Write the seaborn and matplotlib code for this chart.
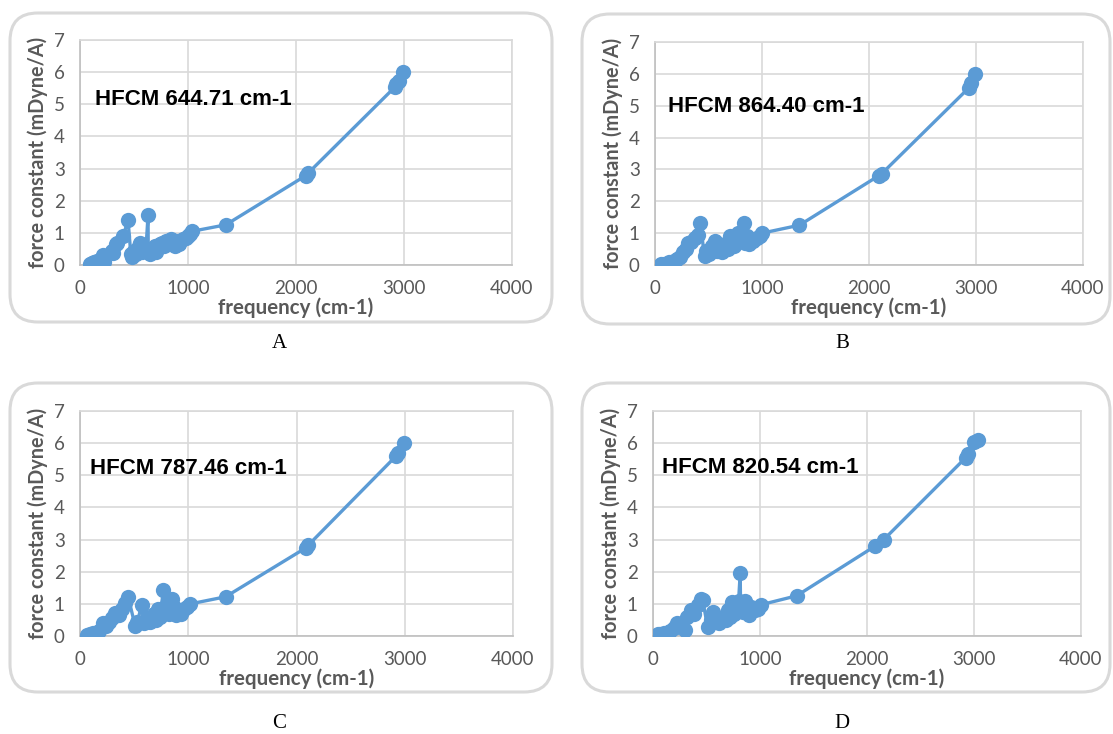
import matplotlib
matplotlib.use("Agg")
import matplotlib.pyplot as plt
import seaborn as sns
from matplotlib.patches import FancyBboxPatch

# ---------------- data ----------------
freq_A = [95, 110, 125, 140, 160, 175, 190, 205, 215, 225, 300, 310, 330, 345, 400, 445,
          470, 480, 500, 520, 545, 560, 575, 590, 610, 630, 632, 650, 670, 690, 700, 720,
          740, 760, 780, 800, 820, 840, 860, 880, 900, 920, 950, 980, 1000, 1020, 1040,
          1350, 2090, 2110, 2920, 2930, 2950, 2990]
fc_A = [0.03, 0.05, 0.08, 0.06, 0.12, 0.10, 0.20, 0.15, 0.30, 0.08, 0.45, 0.38, 0.65, 0.70, 0.90, 1.40,
        0.35, 0.25, 0.45, 0.35, 0.60, 0.70, 0.40, 0.50, 0.45, 1.55, 0.40, 0.35, 0.50, 0.60, 0.40, 0.55,
        0.65, 0.70, 0.60, 0.75, 0.65, 0.80, 0.70, 0.60, 0.75, 0.65, 0.80, 0.85, 0.90, 0.95, 1.05,
        1.25, 2.78, 2.85, 5.55, 5.62, 5.72, 6.00]

freq_B = [60, 80, 100, 130, 150, 180, 210, 230, 260, 290, 310, 340, 370, 400, 423,
          463, 480, 500, 530, 560, 580, 600, 630, 650, 680, 700, 720, 740, 760, 780, 800,
          833, 840, 860, 880, 900, 920, 950, 980, 1000,
          1350, 2090, 2120, 2930, 2950, 2990]
fc_B = [0.02, 0.04, 0.03, 0.08, 0.06, 0.12, 0.20, 0.25, 0.40, 0.50, 0.68, 0.72, 0.85, 0.95, 1.31,
        0.27, 0.45, 0.35, 0.60, 0.75, 0.45, 0.55, 0.40, 0.65, 0.50, 0.90, 0.70, 0.60, 0.85, 1.00, 0.80,
        1.33, 0.70, 0.90, 0.65, 0.80, 0.75, 0.85, 0.90, 1.00,
        1.25, 2.80, 2.87, 5.55, 5.70, 6.00]

freq_C = [65, 90, 120, 150, 180, 213, 240, 270, 300, 324, 360, 390, 417, 445,
          510, 530, 571, 590, 620, 650, 680, 700, 720, 740, 770, 775, 800, 820, 850, 870,
          890, 910, 930, 960, 990, 1020,
          1345, 2090, 2110, 2920, 2940, 2990]
fc_C = [0.03, 0.05, 0.08, 0.10, 0.15, 0.40, 0.30, 0.45, 0.55, 0.72, 0.65, 0.85, 1.03, 1.22,
        0.30, 0.45, 0.97, 0.40, 0.55, 0.45, 0.70, 0.50, 0.85, 0.60, 1.43, 0.80, 1.00, 0.70, 1.15, 0.90,
        0.65, 0.80, 0.70, 0.85, 0.90, 1.00,
        1.22, 2.75, 2.83, 5.60, 5.70, 6.00]

freq_D = [48, 70, 100, 130, 160, 200, 224, 260, 300, 320, 351, 380, 420, 447, 463,
          511, 540, 559, 590, 620, 650, 680, 700, 720, 740, 760, 780, 800, 815, 818, 840,
          860, 880, 900, 920, 950, 980, 1006,
          1342, 2077, 2157, 2923, 2940, 3003, 3035]
fc_D = [0.05, 0.06, 0.08, 0.10, 0.15, 0.25, 0.39, 0.30, 0.20, 0.60, 0.81, 0.70, 0.95, 1.15, 1.13,
        0.28, 0.50, 0.76, 0.45, 0.40, 0.55, 0.50, 0.80, 0.60, 1.05, 0.70, 0.95, 1.10, 1.95, 1.00, 0.75,
        1.10, 0.80, 0.65, 0.90, 0.80, 0.85, 0.97,
        1.25, 2.80, 3.00, 5.55, 5.65, 6.05, 6.10]

labels = ["HFCM 644.71 cm-1", "HFCM 864.40 cm-1", "HFCM 787.46 cm-1", "HFCM 820.54 cm-1"]
panel_letters = ["A", "B", "C", "D"]
x_ticks = [0, 1000, 2000, 3000, 4000]
y_ticks = [0, 1, 2, 3, 4, 5, 6, 7]

# ---------------- style ----------------
sns.set_theme(style="white")
plt.rcParams['font.family'] = ['Lato', 'DejaVu Sans']

W, H = 1113, 734
fig = plt.figure(figsize=(W / 100, H / 100), dpi=100)

LINE = "#5B9BD5"
GRID = "#D9D9D9"
TXT = "#595959"

def px_axes(l, r, t, b):
    return fig.add_axes([l / W, 1 - b / H, (r - l) / W, (b - t) / H])

def box(l, r, t, b):
    p = FancyBboxPatch((l / W, 1 - b / H), (r - l) / W, (b - t) / H,
                       boxstyle="round,pad=0,rounding_size=0.025",
                       transform=fig.transFigure, facecolor="none",
                       edgecolor=GRID, linewidth=2.2, zorder=-1,
                       mutation_aspect=W / H)
    fig.patches.append(p)

panels = [
    dict(f=freq_A, k=fc_A, box=(10, 552, 13, 322), ax=(80, 512, 40, 265), txt=(139, 5.15), let=(279, 343)),
    dict(f=freq_B, k=fc_B, box=(582, 1110, 14, 324), ax=(655, 1083, 42, 265), txt=(120, 4.97), let=(842, 343)),
    dict(f=freq_C, k=fc_C, box=(10, 552, 383, 692), ax=(80, 513, 411, 636), txt=(93, 5.2), let=(279, 724)),
    dict(f=freq_D, k=fc_D, box=(582, 1110, 383, 692), ax=(653, 1081, 411, 636), txt=(83, 5.25), let=(842, 724)),
]

for i, p in enumerate(panels):
    box(*p["box"])
    ax = px_axes(*p["ax"])
    ax.set_facecolor("none")
    sns.lineplot(x=p["f"], y=p["k"], sort=False, estimator=None, ax=ax,
                 color=LINE, linewidth=2.4, marker="o", markersize=11,
                 markeredgewidth=0, zorder=3)
    ax.set_xlim(0, 4000)
    ax.set_ylim(0, 7)
    ax.set_xticks(x_ticks)
    ax.set_yticks(y_ticks)
    ax.grid(True, color=GRID, linewidth=1.2)
    ax.set_axisbelow(True)
    for s in ["top", "right"]:
        ax.spines[s].set_color(GRID)
        ax.spines[s].set_linewidth(1.2)
    for s in ["left", "bottom"]:
        ax.spines[s].set_color("#BFBFBF")
        ax.spines[s].set_linewidth(1.2)
    ax.tick_params(axis="x", length=0, labelsize=13.5, labelcolor=TXT, pad=11)
    ax.tick_params(axis="y", length=0, labelsize=13.5, labelcolor=TXT, pad=11)
    ax.set_xlabel("frequency (cm-1)", fontsize=14.8, fontweight="bold", color=TXT, labelpad=0)
    ax.set_ylabel("force constant (mDyne/A)", fontsize=14.3, fontweight="bold", color=TXT, labelpad=4)
    ax.text(p["txt"][0], p["txt"][1], labels[i], fontsize=16, fontweight="bold",
            family=["Liberation Sans", "DejaVu Sans"], color="black", va="center", ha="left")
    fig.text(p["let"][0] / W, 1 - p["let"][1] / H, panel_letters[i], fontsize=15,
             family=["Liberation Serif", "DejaVu Serif"], ha="center", va="center", color="black")

fig.savefig("out.png", dpi=100)
